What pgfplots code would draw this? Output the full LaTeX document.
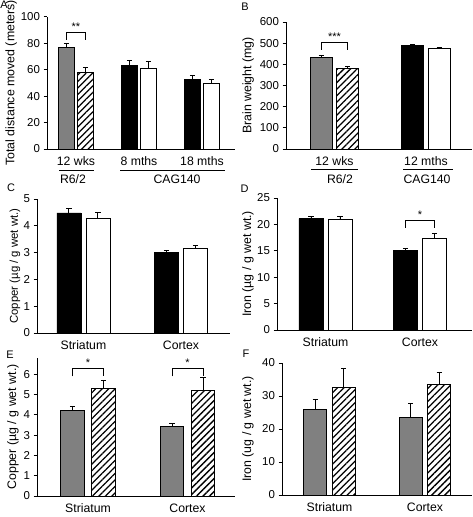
\documentclass[border=0pt]{standalone}
\usepackage{pgfplots}
\pgfplotsset{compat=1.18}
\usepackage{fontspec}
\setmainfont{Liberation Sans}
\usetikzlibrary{patterns.meta}
\definecolor{bargray}{RGB}{128,128,128}
\pgfplotsset{
  panel/.style={
    scale only axis, anchor=south west,
    axis x line*=bottom, axis y line*=left,
    axis line style={line width=0.9pt,-},
    ybar, ymin=0, clip=false,
    xtick style={draw=none},
    ytick style={line width=0.9pt,black},
    major tick length=3.5bp, tick align=outside, ytick pos=left,
    yticklabel style={font=\fontsize{11.5}{13}\selectfont},
    xticklabel style={font=\fontsize{12.3}{14}\selectfont, yshift=-1bp},
    /pgf/number format/assume math mode=true,
    every axis y label/.style={rotate=90, anchor=center, font=\fontsize{12.4}{14}\selectfont},
  },
  errs/.style={
    error bars/y dir=plus, error bars/y explicit,
    error bars/error bar style={line width=0.9pt,black},
    error bars/error mark options={rotate=90, mark size=2.6bp, line width=0.9pt, black},
  },
  grayb/.style={fill=bargray, draw=black, line width=0.8pt, errs},
  blackb/.style={fill=black, draw=black, line width=0.8pt, errs},
  whiteb/.style={fill=white, draw=black, line width=0.8pt, errs},
  hatchb/.style={fill=white, draw=black, line width=0.8pt,
    postaction={pattern={Lines[angle=45,distance=4.6bp,line width=1.3bp]}}, errs},
}
\begin{document}
\begin{tikzpicture}[x=1bp,y=1bp]
\useasboundingbox (0,0) rectangle (473,517);
% ---------------- A ----------------
\begin{axis}[panel, at={(47bp,368bp)}, width=188bp, height=132.3bp,
  xmin=0.54, xmax=3.524, ymax=100, ytick={0,20,40,60,80,100},
  xtick={1,2,3}, xticklabels={12 wks, 8 mths, 18 mths},
  bar width=15.5bp,
  ylabel={Total distance moved (meters)},
  every axis y label/.append style={at={(axis description cs:-0.19,0.5)}}]
\addplot[grayb, bar shift=-9.5bp] coordinates {(1,76.6) +- (0,3.3)};
\addplot[hatchb, bar shift=9.5bp] coordinates {(1,57.8) +- (0,4.0)};
\addplot[blackb, bar shift=-9.5bp] coordinates {(2,63.1) +- (0,4.0) (3,52.8) +- (0,2.5)};
\addplot[whiteb, bar shift=9.5bp] coordinates {(2,60.8) +- (0,5.0) (3,49.2) +- (0,3.1)};
\draw[line width=0.8pt] (axis cs:0.849,82.4) |- (axis cs:1.151,87.9) -- (axis cs:1.151,82.4);
\node[font=\fontsize{11}{12}\selectfont] at (axis cs:1,92.5) {**};
\end{axis}
% ---------------- B ----------------
\begin{axis}[panel, at={(286bp,368bp)}, width=186bp, height=127bp,
  xmin=0.470, xmax=2.503, ymax=600, ytick={0,100,...,600},
  xtick={1,2}, xticklabels={12 wks, 12 mths},
  bar width=22bp,
  ylabel={Brain weight (mg)},
  every axis y label/.append style={at={(axis description cs:-0.204,0.5)}}]
\addplot[grayb, bar shift=-13.3bp] coordinates {(1,432.6) +- (0,7)};
\addplot[hatchb, bar shift=13.3bp] coordinates {(1,382) +- (0,7)};
\addplot[blackb, bar shift=-13.3bp] coordinates {(2,488) +- (0,8)};
\addplot[whiteb, bar shift=13.3bp] coordinates {(2,475) +- (0,5)};
\draw[line width=0.8pt] (axis cs:0.855,468) |- (axis cs:1.145,502) -- (axis cs:1.145,468);
\node[font=\fontsize{11}{12}\selectfont] at (axis cs:1,531) {***};
\end{axis}
% ---------------- C ----------------
\begin{axis}[panel, at={(37bp,184bp)}, width=193bp, height=134bp,
  xmin=0.524, xmax=2.503, ymax=5, ytick={0,1,...,5},
  xtick={1,2}, xticklabels={Striatum, Cortex},
  bar width=24bp,
  ylabel={Copper (µg / g wet wt.)},
  every axis y label/.append style={at={(axis description cs:-0.114,0.5)}, font=\fontsize{11.4}{13}\selectfont}]
\addplot[blackb, bar shift=-14.5bp] coordinates {(1,4.48) +- (0,0.18) (2,3.01) +- (0,0.07)};
\addplot[whiteb, bar shift=14.5bp] coordinates {(1,4.27) +- (0,0.21) (2,3.17) +- (0,0.10)};
\end{axis}
% ---------------- D ----------------
\begin{axis}[panel, at={(277bp,187bp)}, width=195bp, height=132bp,
  xmin=0.487, xmax=2.55, ymax=25, ytick={0,5,...,25},
  xtick={1,2}, xticklabels={Striatum, Cortex},
  bar width=24bp,
  ylabel={Iron (µg / g wet wt.)},
  every axis y label/.append style={at={(axis description cs:-0.149,0.5)}}]
\addplot[blackb, bar shift=-14.5bp] coordinates {(1,21.08) +- (0,0.45) (2,15.0) +- (0,0.5)};
\addplot[whiteb, bar shift=14.5bp] coordinates {(1,20.9) +- (0,0.6) (2,17.4) +- (0,0.95)};
\draw[line width=0.8pt] (axis cs:1.847,19.4) |- (axis cs:2.150,20.8) -- (axis cs:2.150,19.4);
\node[font=\fontsize{11}{12}\selectfont] at (axis cs:2,21.9) {*};
\end{axis}
% ---------------- E ----------------
\begin{axis}[panel, at={(37bp,21bp)}, width=198bp, height=138bp,
  xmin=0.487, xmax=2.477, ymax=6.8, ytick={0,1,...,6},
  xtick={1,2}, xticklabels={Striatum, Cortex},
  bar width=23.5bp,
  ylabel={Copper (µg / g wet wt.)},
  every axis y label/.append style={at={(axis description cs:-0.121,0.5)}}]
\addplot[grayb, bar shift=-15.5bp] coordinates {(1,4.21) +- (0,0.2) (2,3.42) +- (0,0.16)};
\addplot[hatchb, bar shift=15.5bp] coordinates {(1,5.31) +- (0,0.36) (2,5.19) +- (0,0.66)};
\draw[line width=0.8pt] (axis cs:0.844,5.9) |- (axis cs:1.156,6.28) -- (axis cs:1.156,5.9);
\node[font=\fontsize{11}{12}\selectfont] at (axis cs:1,6.56) {*};
\draw[line width=0.8pt] (axis cs:1.844,5.9) |- (axis cs:2.156,6.28) -- (axis cs:2.156,5.9);
\node[font=\fontsize{11}{12}\selectfont] at (axis cs:2,6.56) {*};
\end{axis}
% ---------------- F ----------------
\begin{axis}[panel, at={(282bp,22bp)}, width=190bp, height=132bp,
  xmin=0.503, xmax=2.492, ymax=40, ytick={0,10,...,40},
  xtick={1,2}, xticklabels={Striatum, Cortex},
  bar width=23bp,
  ylabel={Iron (ug / g wet wt.)},
  every axis y label/.append style={at={(axis description cs:-0.179,0.5)}}]
\addplot[grayb, bar shift=-14.2bp] coordinates {(1,25.9) +- (0,3.0) (2,23.6) +- (0,4.0)};
\addplot[hatchb, bar shift=14.2bp] coordinates {(1,32.7) +- (0,5.5) (2,33.5) +- (0,3.5)};
\end{axis}
% ---------------- group labels & panel letters ----------------
\begin{scope}[line width=0.9pt]
\draw (59,347) -- (94,347);
\draw (120,347) -- (225,347);
\draw (311,348) -- (358,348);
\draw (403,348) -- (453,348);
\end{scope}
\begin{scope}[every node/.style={font=\fontsize{12.3}{14}\selectfont, inner sep=0pt}]
\node at (73,338) {R6/2};
\node at (177,338) {CAG140};
\node at (340,338) {R6/2};
\node at (427,338) {CAG140};
\end{scope}
\begin{scope}[every node/.style={font=\fontsize{11}{13}\selectfont, inner sep=0pt}]
\node at (4,512) {A};
\node at (245,510) {B};
\node at (11,329) {C};
\node at (244.5,328) {D};
\node at (10,162) {E};
\node at (246,163) {F};
\end{scope}
\end{tikzpicture}
\end{document}
